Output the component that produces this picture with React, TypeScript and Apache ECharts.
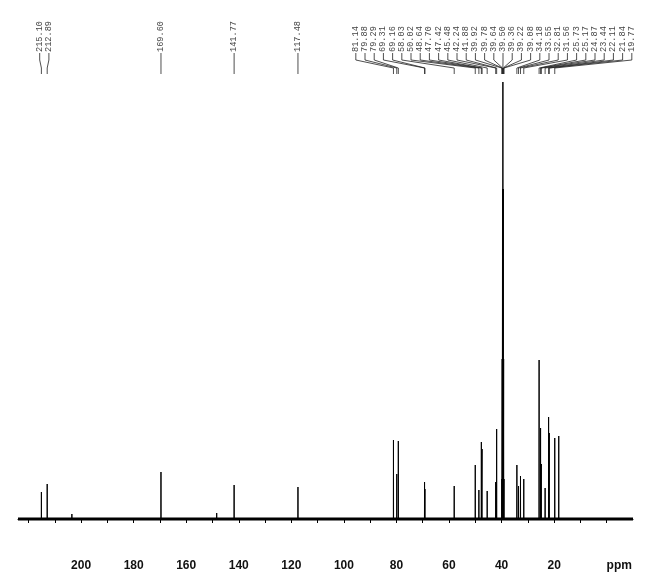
import React, { useEffect, useRef } from "react";
import * as echarts from "echarts";

// Labelled 13C peaks (ppm) and their heights (arbitrary intensity units)
const labeledPpm = [
  215.1, 212.89, 169.6, 141.77, 117.48, 81.14, 79.88, 79.29, 69.31, 69.16,
  58.03, 50.02, 48.64, 47.7, 47.42, 45.48, 42.24, 41.88, 39.92, 39.78, 39.64,
  39.5, 39.36, 39.22, 39.08, 34.18, 33.55, 32.81, 31.56, 25.73, 25.17, 24.87,
  23.44, 22.11, 21.84, 19.77,
];
const labeledHeight = [
  27, 35, 47, 34, 32, 79, 45, 78, 37, 30,
  33, 54, 29, 77, 70, 28, 37, 90, 40, 160, 330,
  437, 330, 160, 40, 54, 33, 43, 40, 159, 91, 55,
  31, 102, 86, 81,
];
// Small unlabelled peaks
const extraPpm = [203.5, 148.4, 18.25];
const extraHeight = [5, 6, 83];

const tickValues = [220, 210, 200, 190, 180, 170, 160, 150, 140, 130, 120, 110, 100, 90, 80, 70, 60, 50, 40, 30, 20, 10, 0];
const labelValues = [200, 180, 160, 140, 120, 100, 80, 60, 40, 20, 0];

export default function App() {
  const ref = useRef<HTMLDivElement>(null);
  useEffect(() => {
    const chart = echarts.init(ref.current!, null, { renderer: "svg" });
    const peaks = labeledPpm
      .map((p, i) => ({ p, h: labeledHeight[i] }))
      .concat(extraPpm.map((p, i) => ({ p, h: extraHeight[i] })));
    peaks.sort((a, b) => b.p - a.p);
    const w = 0.04;
    const spec: number[][] = [[224, 0]];
    peaks.forEach(({ p, h }) => {
      spec.push([p + w, 0], [p, h], [p - w, 0]);
    });
    spec.push([-10, 0]);

    chart.setOption({
      animation: false,
      grid: { left: 18, right: 14, top: 82, bottom: 68 },
      xAxis: {
        type: "value",
        inverse: true,
        min: -10,
        max: 224,
        offset: 32,
        splitLine: { show: false },
        axisLine: { show: true, lineStyle: { color: "#000", width: 1 } },
        axisTick: { show: true, length: 4, customValues: tickValues, lineStyle: { color: "#000" } },
        axisLabel: {
          customValues: labelValues,
          margin: 8,
          fontSize: 12,
          fontWeight: "bold",
          fontFamily: "Liberation Sans",
          color: "#111",
          formatter: (v: number) => (v === 0 ? "{p|ppm}" : String(v)),
          rich: {
            p: { fontSize: 12, fontWeight: "bold", fontFamily: "Liberation Sans", color: "#111", padding: [0, 0, 0, 25] },
          },
        },
      },
      yAxis: { type: "value", min: 0, max: 437, show: false },
      series: [
        {
          type: "line",
          data: [[224, 0], [-10, 0]],
          symbol: "none",
          clip: false,
          lineStyle: { color: "#000", width: 3 },
          z: 1,
        },
        {
          type: "line",
          data: spec,
          symbol: "none",
          clip: false,
          lineStyle: { color: "#000", width: 1 },
          z: 2,
        },
      ],
    });

    // label layout
    const xs = labeledPpm.map((p) => chart.convertToPixel({ xAxisIndex: 0 }, p) as number);
    const s = 9.2;
    let groups: { idx: number[]; center: number }[] = [];
    for (let i = 0; i < xs.length; i++) {
      groups.push({ idx: [i], center: xs[i] });
      while (groups.length > 1) {
        const g = groups[groups.length - 1];
        const pr = groups[groups.length - 2];
        const prRight = pr.center + ((pr.idx.length - 1) * s) / 2;
        const gLeft = g.center - ((g.idx.length - 1) * s) / 2;
        if (gLeft - prRight < s) {
          const idx = pr.idx.concat(g.idx);
          const center = idx.reduce((a, k) => a + xs[k], 0) / idx.length;
          groups.splice(groups.length - 2, 2, { idx, center });
        } else break;
      }
    }
    const labelX: number[] = new Array(xs.length);
    groups.forEach((g) => {
      const start = g.center - ((g.idx.length - 1) * s) / 2;
      g.idx.forEach((k, j) => (labelX[k] = start + j * s));
    });

    const elements: any[] = [];
    labeledPpm.forEach((p, i) => {
      const lx = labelX[i];
      const px = xs[i];
      elements.push({
        type: "text",
        x: lx,
        y: 52,
        rotation: Math.PI / 2,
        style: {
          text: p.toFixed(2),
          fill: "#444",
          font: "8.6px 'Liberation Mono'",
          align: "left",
          verticalAlign: "middle",
        },
      });
      elements.push({
        type: "polyline",
        shape: { points: [[lx, 53], [lx, 60], [px, 68], [px, 74]] },
        style: { stroke: "#222", lineWidth: 0.8, fill: null },
      });
    });
    chart.setOption({ graphic: elements });

    return () => chart.dispose();
  }, []);
  return <div ref={ref} style={{ position: "fixed", left: 0, top: 0, width: 647, height: 587 }} />;
}
